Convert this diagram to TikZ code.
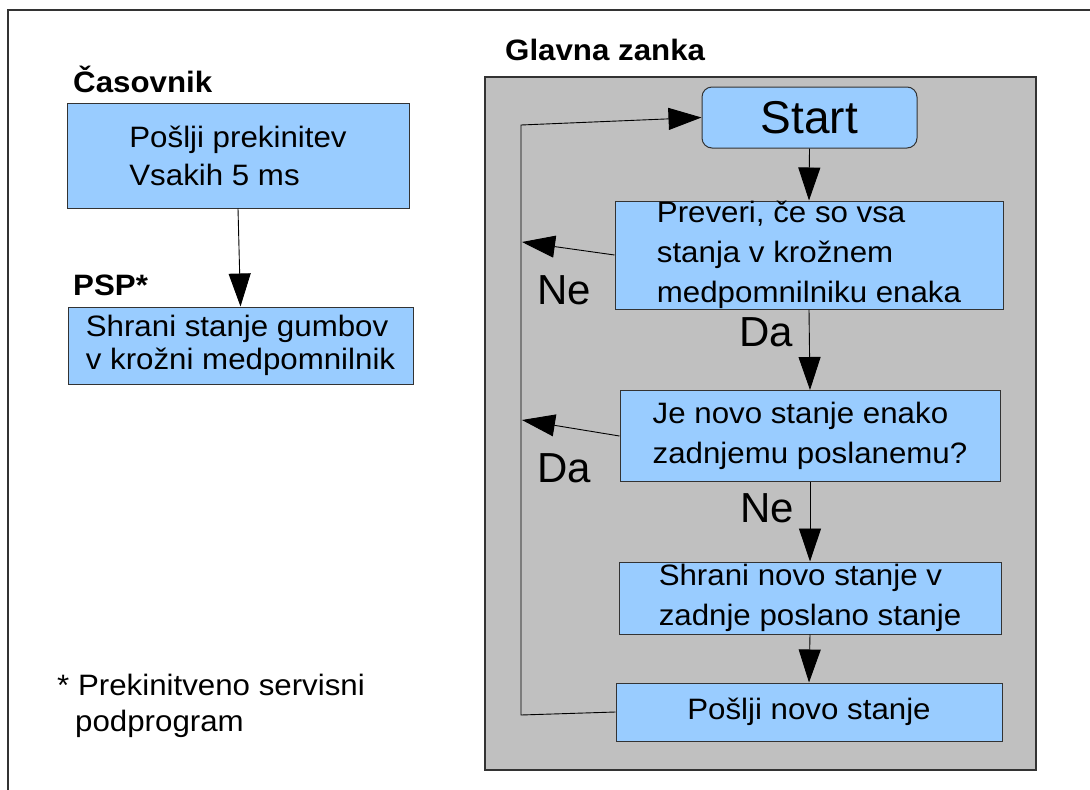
\documentclass[tikz,border=0pt]{standalone}
\usepackage{fontspec}
\setmainfont{Liberation Sans}[FakeStretch=1.06]
\newfontfamily\plainsans{Liberation Sans}
\usetikzlibrary{arrows.meta}
\definecolor{boxblue}{HTML}{99CCFF}
\definecolor{panelgrey}{HTML}{C0C0C0}
\definecolor{edge}{HTML}{333333}
\tikzset{
  flowbox/.style={draw=edge, line width=1pt, fill=boxblue, align=left,
    inner sep=0pt, font=\fontsize{29.5}{40}\selectfont},
  heading/.style={anchor=base west, inner sep=0pt,
    font=\bfseries\fontsize{29.5}{34}\selectfont},
  branch/.style={anchor=base west, inner sep=0pt,
    font=\plainsans\fontsize{42}{50}\selectfont},
  link/.style={draw=black, line width=0.9pt,
    -{Triangle[length=33pt,width=22pt]}},
}
\begin{document}
\begin{tikzpicture}[x=1pt, y=-1pt]
  \useasboundingbox (0,0) rectangle (1090,790);
  % page frame
  \draw[edge, line width=1.3pt] (8,790) -- (8,10) -- (1090,10);

  % ---- timer and interrupt routine ----
  \node[heading] (timerhead) at (73,92) {Časovnik};
  \node[flowbox, minimum width=342pt, minimum height=105pt,
        font=\fontsize{29.5}{38}\selectfont] (tick) at (238,155.5)
        {Pošlji prekinitev\\Vsakih 5 ms};
  \node[heading] (isrhead) at (73,295) {PSP*};
  \node[flowbox, minimum width=345pt, minimum height=77pt,
        font=\fontsize{29.5}{33}\selectfont] (isr) at (240.5,345.5)
        {Shrani stanje gumbov\\v krožni medpomnilnik};
  \draw[link] (tick.south) -- (isr.north);

  \node[anchor=west, inner sep=0pt, align=left,
        font=\fontsize{29.5}{36}\selectfont] (note) at (57,705.5)
        {* Prekinitveno servisni\\\hspace*{18pt}podprogram};

  % ---- main loop ----
  \node[heading] (loophead) at (505,60) {Glavna zanka};
  \node[draw=edge, line width=1.3pt, fill=panelgrey, inner sep=0pt,
        minimum width=551pt, minimum height=693pt] (panel) at (760.5,423.5) {};

  \node[flowbox, rounded corners=10pt, minimum width=215pt, minimum height=61pt,
        font=\plainsans\fontsize{46}{50}\selectfont] (start) at (809.5,117.5) {Start};
  \node[flowbox, minimum width=388pt, minimum height=108pt] (check) at (809,255)
        {Preveri, če so vsa\\stanja v krožnem\\medpomnilniku enaka};
  \node[flowbox, minimum width=380pt, minimum height=91pt] (same) at (810,436)
        {Je novo stanje enako\\zadnjemu poslanemu?};
  \node[flowbox, minimum width=382pt, minimum height=72pt] (store) at (810,598)
        {Shrani novo stanje v\\zadnje poslano stanje};
  \node[flowbox, minimum width=386pt, minimum height=58pt] (send) at (809,712)
        {Pošlji novo stanje};

  \draw[link] (start.south) -- (check.north);
  \draw[link] (check.south) -- (same.north);
  \draw[link] (same.south) -- (store.north);
  \draw[link] (store.south) -- (send.north);

  \node[branch] (yes1) at (739,346) {Da};
  \node[branch] (no1) at (740,522) {Ne};

  % return path on the left
  \coordinate (loopbottom) at (521,715);
  \coordinate (looptop) at (521,125);
  \coordinate (notip) at (522,242);
  \coordinate (yestip) at (522,420);
  \draw[link] (send.west) -- (loopbottom) -- (looptop) -- (start.west);
  \draw[link] (check.west) -- (notip);
  \draw[link] (same.west) -- (yestip);
  \node[branch] (no2) at (537,304) {Ne};
  \node[branch] (yes2) at (537,482) {Da};
\end{tikzpicture}
\end{document}
